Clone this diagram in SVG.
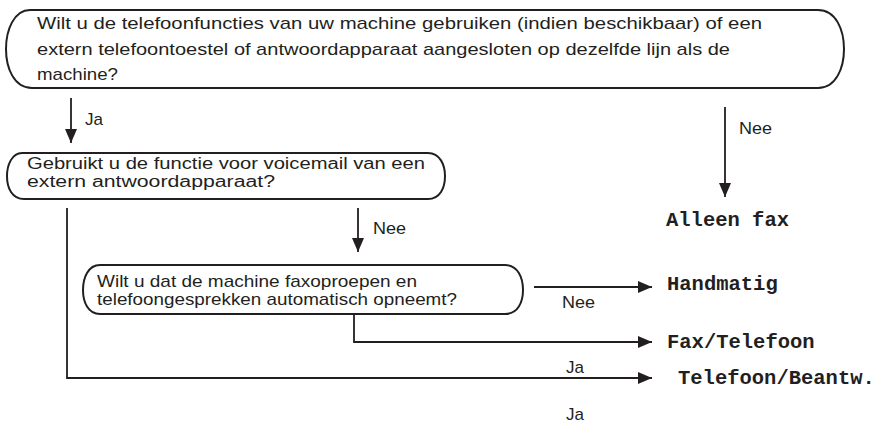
<svg xmlns="http://www.w3.org/2000/svg" width="879" height="424" viewBox="0 0 879 424">
<defs>
<style>
.box{fill:#fff;stroke:#231f20;stroke-width:2}
.q{font-family:"Liberation Sans",Arial,sans-serif;font-size:17px;fill:#231f20}
.q2{font-family:"Liberation Sans",Arial,sans-serif;font-size:16px;fill:#231f20}
.lbl{font-family:"Liberation Sans",Arial,sans-serif;font-size:17px;fill:#231f20}
.res{font-family:"Liberation Mono","Courier New",monospace;font-size:20.5px;font-weight:bold;fill:#231f20}
.ln{fill:none;stroke:#231f20;stroke-width:1.8}
</style>
<marker id="ah" markerUnits="userSpaceOnUse" markerWidth="16" markerHeight="14" refX="14" refY="6" orient="auto">
<path d="M0,0 L14,6 L0,12 Z" fill="#231f20"/>
</marker>
</defs>
<rect width="879" height="424" fill="#fff"/>
<g id="q1">
<path class="box" d="M30,10 H818 C836,10 844,30 844,49 C844,68 836,88 818,88 H32 C14,88 6,68 6,49 C6,30 14,10 30,10 Z"/>
<text class="q" x="37" y="29" textLength="725" lengthAdjust="spacingAndGlyphs">Wilt u de telefoonfuncties van uw machine gebruiken (indien beschikbaar) of een</text>
<text class="q" x="37" y="55" textLength="693" lengthAdjust="spacingAndGlyphs">extern telefoontoestel of antwoordapparaat aangesloten op dezelfde lijn als de</text>
<text class="q" x="37" y="80" textLength="81" lengthAdjust="spacingAndGlyphs">machine?</text>
</g>
<g id="q2">
<path class="box" d="M22,153 H428 C440,153 445,165 445,176 C445,188 440,199 428,199 H24 C12,199 7,188 7,176 C7,165 12,153 22,153 Z"/>
<text class="q2" x="27" y="169" textLength="398" lengthAdjust="spacingAndGlyphs">Gebruikt u de functie voor voicemail van een</text>
<text class="q2" x="27" y="187" textLength="248" lengthAdjust="spacingAndGlyphs">extern antwoordapparaat?</text>
</g>
<g id="q3">
<path class="box" d="M100,265 H505 C518,265 523,278 523,290 C523,302 518,314 505,314 H100 C88,314 83,302 83,290 C83,278 88,265 100,265 Z"/>
<text class="q" x="97" y="287" textLength="320" lengthAdjust="spacingAndGlyphs">Wilt u dat de machine faxoproepen en</text>
<text class="q" x="97" y="305" textLength="360" lengthAdjust="spacingAndGlyphs">telefoongesprekken automatisch opneemt?</text>
</g>
<g id="r1"><text class="res" x="666" y="226">Alleen fax</text></g>
<g id="r2"><text class="res" x="667" y="290">Handmatig</text></g>
<g id="r3"><text class="res" x="667" y="348">Fax/Telefoon</text></g>
<g id="r4"><text class="res" x="678" y="384">Telefoon/Beantw.</text></g>
<g id="connectors">
<path class="ln" d="M71,98 V143" marker-end="url(#ah)"/>
<text class="lbl" x="85" y="125">Ja</text>
<path class="ln" d="M725,107 V197" marker-end="url(#ah)"/>
<text class="lbl" x="739" y="134" textLength="33" lengthAdjust="spacingAndGlyphs">Nee</text>
<path class="ln" d="M358,208 V252" marker-end="url(#ah)"/>
<text class="lbl" x="373" y="234" textLength="33" lengthAdjust="spacingAndGlyphs">Nee</text>
<path class="ln" d="M534,287 H652" marker-end="url(#ah)"/>
<text class="lbl" x="562" y="308" textLength="33" lengthAdjust="spacingAndGlyphs">Nee</text>
<path class="ln" d="M354,315 V342 H652" marker-end="url(#ah)"/>
<text class="lbl" x="566" y="373">Ja</text>
<path class="ln" d="M67,208 V378 H652" marker-end="url(#ah)"/>
<text class="lbl" x="566" y="420">Ja</text>
</g>
</svg>
